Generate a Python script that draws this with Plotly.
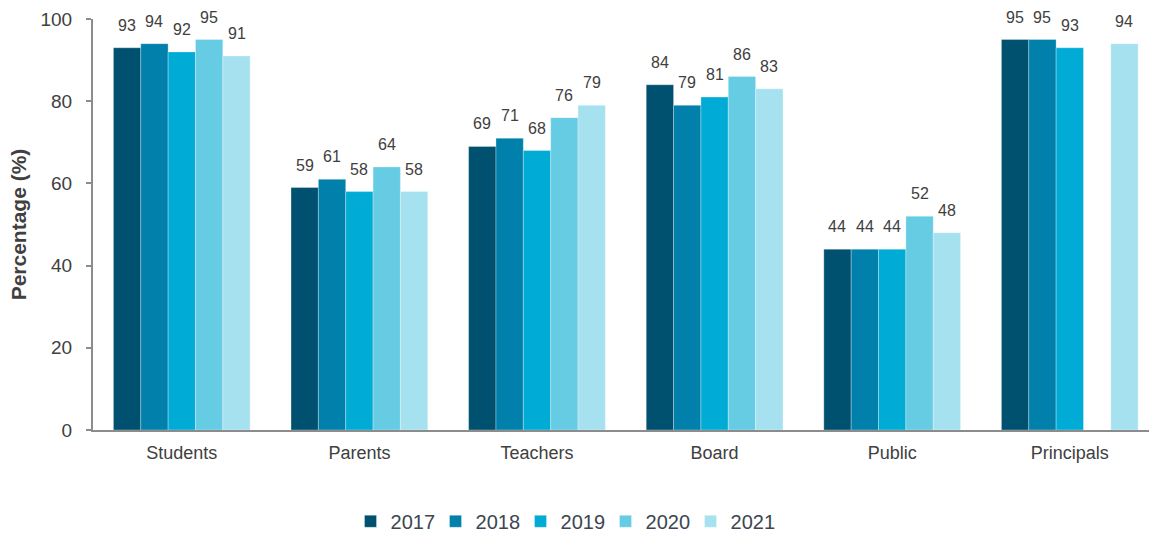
import plotly.graph_objects as go

categories = ["Students", "Parents", "Teachers", "Board", "Public", "Principals"]
years = ["2017", "2018", "2019", "2020", "2021"]
values_2017 = [93, 59, 69, 84, 44, 95]
values_2018 = [94, 61, 71, 79, 44, 95]
values_2019 = [92, 58, 68, 81, 44, 93]
values_2020 = [95, 64, 76, 86, 52, None]
values_2021 = [91, 58, 79, 83, 48, 94]
colors = ["#00506F", "#0080AB", "#00ABD5", "#66CCE3", "#A6E1EF"]

series = [values_2017, values_2018, values_2019, values_2020, values_2021]

TEXT = "#404040"
FONT = "Liberation Sans, Arial"
BARGAP = 0.23
PLOT_LEFT, FIG_W = 93, 1149
X_RANGE = [-0.5, 5.446]

fig = go.Figure()
for year, vals, col in zip(years, series, colors):
    fig.add_trace(go.Bar(
        name=year, x=categories, y=vals,
        marker=dict(color=col, line=dict(color="rgba(255,255,255,0.6)", width=0.5)),
        cliponaxis=False,
    ))

# value labels above each bar, shifted to the centre of its slot in the group
px_per_cat = (FIG_W - PLOT_LEFT) / (X_RANGE[1] - X_RANGE[0])
bar_px = px_per_cat * (1 - BARGAP) / len(years)
for i, vals in enumerate(series):
    shift = (i - (len(years) - 1) / 2) * bar_px
    for cat, v in zip(categories, vals):
        if v is None:
            continue
        fig.add_annotation(
            x=cat, y=v, text=str(v), showarrow=False,
            xshift=shift, yshift=12, yanchor="bottom",
            font=dict(family=FONT, size=16, color=TEXT),
        )

fig.update_layout(
    width=FIG_W, height=533,
    margin=dict(l=PLOT_LEFT, r=0, t=19, b=103),
    paper_bgcolor="white", plot_bgcolor="white",
    barmode="group", bargap=BARGAP, bargroupgap=0,
    font=dict(family=FONT, color=TEXT),
    showlegend=True,
    legend=dict(orientation="h", xref="container", x=0.49, xanchor="center",
                yref="container", y=0.022, yanchor="middle",
                font=dict(size=20, color="#3C4650"), itemwidth=30,
                entrywidth=40, entrywidthmode="pixels",
                traceorder="normal"),
    xaxis=dict(
        range=X_RANGE, showline=True, linecolor="#8C8C8C", linewidth=2,
        ticks="", tickfont=dict(size=18, color=TEXT), showgrid=False,
        ticklabelstandoff=5,
    ),
    yaxis=dict(
        range=[0, 100], tickvals=[0, 20, 40, 60, 80, 100],
        showline=True, linecolor="#8C8C8C", linewidth=2,
        ticks="outside", ticklen=5, tickcolor="#8C8C8C", tickwidth=2,
        tickfont=dict(size=19, color=TEXT), showgrid=False, zeroline=False,
        ticklabelstandoff=10,
        title=dict(text="<b>Percentage (%)</b>", font=dict(size=21, color=TEXT), standoff=8),
    ),
)

fig.write_html("out.html")
